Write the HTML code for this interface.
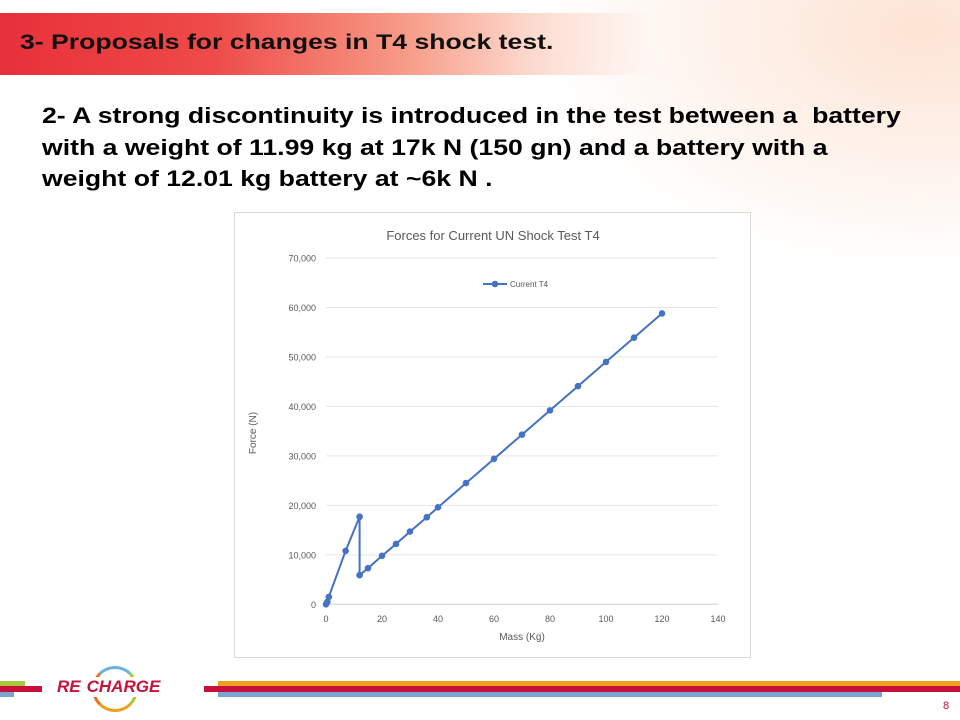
<!DOCTYPE html>
<html><head><meta charset="utf-8"><style>
body{margin:0;width:960px;height:720px;overflow:hidden;background:#fff;font-family:"Liberation Sans",sans-serif;position:relative}
.abs{position:absolute}
</style></head><body>
<div class="abs" style="left:0;top:0;width:960px;height:300px;background:radial-gradient(ellipse 380px 240px at 920px 30px,rgba(250,195,160,0.45),rgba(255,255,255,0) 100%)"></div>
<div class="abs" style="left:0;top:13px;width:960px;height:62px;background:linear-gradient(90deg,#e8303a 0%,#ee4a48 22%,#f79a86 42%,#fcd8cc 55%,rgba(255,255,255,0) 68%)"></div>
<div class="abs" style="left:20px;top:31px;color:#111;font-weight:bold;font-size:21px;transform:scaleX(1.266);transform-origin:left top;white-space:nowrap">3- Proposals for changes in T4 shock test.</div>
<div class="abs" style="left:42px;top:100px;color:#000;font-weight:bold;font-size:22px;line-height:31.5px;width:760px;white-space:nowrap;transform:scaleX(1.21);transform-origin:left top">2- A strong discontinuity is introduced in the test between a&nbsp; battery<br>with a weight of 11.99 kg at 17k N (150 gn) and a battery with a<br>weight of 12.01 kg battery at ~6k N .</div>
<svg class="abs" style="left:0;top:0" width="960" height="720" id="chart"></svg>
<div class="abs" style="left:0;top:0;width:960px;height:720px">
<div class="abs" style="left:0;top:681px;width:25px;height:5px;background:#a8c93c"></div>
<div class="abs" style="left:0;top:686px;width:42px;height:6px;background:#c8103c"></div>
<div class="abs" style="left:0;top:692px;width:14px;height:5px;background:#7aa6d4"></div>
<div class="abs" style="left:204px;top:686px;width:14px;height:6px;background:#c8103c"></div>
<div class="abs" style="left:218px;top:681px;width:742px;height:5px;background:#f0a020"></div>
<div class="abs" style="left:218px;top:686px;width:742px;height:6px;background:#c8103c"></div>
<div class="abs" style="left:218px;top:692px;width:664px;height:5px;background:#7aa6d4"></div>
</div>
<div class="abs" style="left:52px;top:666px;width:150px;height:44px">
<div class="abs" style="left:40px;top:0;width:40px;height:40px;border-radius:50%;border:3px solid #f0a020;border-left-color:#e87020;border-top-color:#6ab0e0;border-right-color:#a8c93c"></div>
<div class="abs" style="left:3px;top:11px;font-style:italic;font-weight:bold;font-size:17px;color:#c8103c;background:#fff;padding:0 2px">RE<span style="margin-left:6px">CHARGE</span></div>
</div>
<div class="abs" style="left:943px;top:700px;font-size:11px;color:#c8103c">8</div>
<script>
const xs=[0,0.5,1,7,12,12,15,20,25,30,36,40,50,60,70,80,90,100,110,120];
const ys=[0,500,1500,10800,17700,5900,7300,9800,12200,14700,17600,19600,24500,29400,34300,39200,44100,49000,53900,58800];
const yTicks=[0,10000,20000,30000,40000,50000,60000,70000];
const xTicks=[0,20,40,60,80,100,120,140];
const svg=document.getElementById('chart');const NS='http://www.w3.org/2000/svg';
const X0=326,X1=718,Y0=604.3,Y1=258;
const sx=v=>X0+(v-0)/140*(X1-X0), sy=v=>Y0-(v/70000)*(Y0-Y1);
function mk(t,a,p){const e=document.createElementNS(NS,t);for(const k in a)e.setAttribute(k,a[k]);(p||svg).appendChild(e);return e;}
let fr=mk('rect',{x:234.5,y:212.5,width:516,height:445,fill:'#fff',stroke:'#d9d9d9'});


let t=mk('text',{x:493,y:240,'text-anchor':'middle','font-size':13,fill:'#595959','font-family':'Liberation Sans'});t.textContent='Forces for Current UN Shock Test T4';


yTicks.forEach(v=>{const g=mk('line',{x1:X0,x2:X1,y1:sy(v),y2:sy(v),stroke:v?'#e6e6e6':'#d0d0d0'});


const l=mk('text',{x:316,y:sy(v)+3.5,'text-anchor':'end','font-size':9,fill:'#595959','font-family':'Liberation Sans'});l.textContent=v.toLocaleString('en-US');

});
xTicks.forEach(v=>{const l=mk('text',{x:sx(v),y:622,'text-anchor':'middle','font-size':9,fill:'#595959','font-family':'Liberation Sans'});l.textContent=v;

});
let xt=mk('text',{x:522,y:640,'text-anchor':'middle','font-size':10,fill:'#595959','font-family':'Liberation Sans'});xt.textContent='Mass (Kg)';


let yt=mk('text',{x:0,y:0,'text-anchor':'middle','font-size':10,fill:'#595959','font-family':'Liberation Sans',transform:'translate(256,433) rotate(-90)'});yt.textContent='Force (N)';


let pl=mk('polyline',{points:xs.map((x,i)=>sx(x)+','+sy(ys[i])).join(' '),fill:'none',stroke:'#4472c4','stroke-width':2});


xs.forEach((x,i)=>{const c=mk('circle',{cx:sx(x),cy:sy(ys[i]),r:3.3,fill:'#4472c4'});

});
mk('line',{x1:483,x2:507,y1:284,y2:284,stroke:'#4472c4','stroke-width':2});
mk('circle',{cx:495,cy:284,r:3.3,fill:'#4472c4'});
let lg=mk('text',{x:510,y:287,'font-size':8,fill:'#595959','font-family':'Liberation Sans'});lg.textContent='Current  T4';


</script>
</body></html>
